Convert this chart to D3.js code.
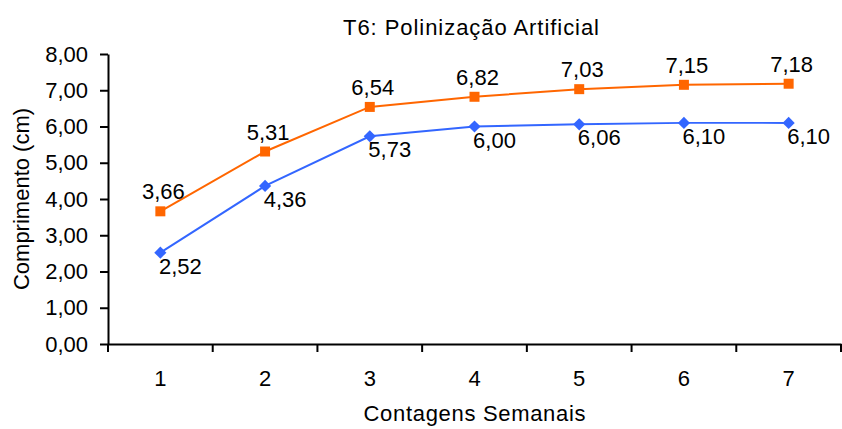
<!DOCTYPE html>
<html lang="pt">
	<head>
		<meta charset="utf-8">
		<title>T6</title>
		<script src="https://d3js.org/d3.v7.min.js"></script>
		<style type="text/css">
		body { margin: 0; background: white; }
		text { font-family: "Liberation Sans", Arial, sans-serif; fill: black; }
		.axis text { font-size: 22px; }
		.axis path, .axis line { stroke: black; stroke-width: 2; }
		.lbl { font-size: 22px; text-anchor: middle; }
		</style>
	</head>
	<body>
		<div id="chart"></div>
		<script type="text/javascript">

		// dados
		var semanas = ["1", "2", "3", "4", "5", "6", "7"];
		var serieA = [3.66, 5.31, 6.54, 6.82, 7.03, 7.15, 7.18];   // laranja
		var serieB = [2.52, 4.36, 5.73, 6.00, 6.06, 6.10, 6.10];   // azul
		var yTicks = [0, 1, 2, 3, 4, 5, 6, 7, 8];

		var w = 842, h = 429;
		var mLeft = 108, mRight = 841, mTop = 54, mBottom = 344;

		var fmt = function(v) { return d3.format(".2f")(v).replace(".", ","); };

		var svg = d3.select("#chart").append("svg")
			.attr("width", w)
			.attr("height", h);

		var xScale = d3.scaleBand().domain(semanas).range([mLeft, mRight]);
		var yScale = d3.scaleLinear().domain([0, 8]).range([mBottom, mTop]);

		var cx = function(d, i) { return xScale(semanas[i]) + xScale.bandwidth() / 2; };

		// eixos
		svg.append("g")
			.attr("class", "axis")
			.attr("transform", "translate(0," + mBottom + ")")
			.call(d3.axisBottom(xScale).tickSizeInner(0).tickSizeOuter(0).tickPadding(26))
			.call(function(g) {
				// ticks nas bordas das categorias
				var edges = semanas.map(function(s) { return xScale(s); }).concat([mRight]);
				g.selectAll(".edge").data(edges).enter().append("line")
					.attr("class", "edge")
					.attr("x1", function(d) { return d; }).attr("x2", function(d) { return d; })
					.attr("y1", 0).attr("y2", 8);
			});

		svg.append("g")
			.attr("class", "axis")
			.attr("transform", "translate(" + mLeft + ",0)")
			.call(d3.axisLeft(yScale).tickValues(yTicks).tickFormat(fmt).tickSizeInner(8).tickSizeOuter(0).tickPadding(12));

		// linhas
		var series = [
			{ vals: serieA, color: "#FF6600", size: 100, rot: 0, dx: 3, dy: -12 },
			{ vals: serieB, color: "#3366FF", size: 74, rot: 45, dx: 20, dy: 21 }
		];

		series.forEach(function(s) {
			var line = d3.line()
				.x(cx)
				.y(function(d) { return yScale(d); });

			svg.append("path")
				.datum(s.vals)
				.attr("d", line)
				.attr("fill", "none")
				.attr("stroke", s.color)
				.attr("stroke-width", 2);

			svg.selectAll(null)
				.data(s.vals)
				.enter()
				.append("path")
				.attr("d", d3.symbol().type(d3.symbolSquare).size(s.size))
				.attr("transform", function(d, i) { return "translate(" + cx(d, i) + "," + yScale(d) + ") rotate(" + s.rot + ")"; })
				.attr("fill", s.color);

			svg.selectAll(null)
				.data(s.vals)
				.enter()
				.append("text")
				.attr("class", "lbl")
				.attr("x", function(d, i) { return cx(d, i) + s.dx; })
				.attr("y", function(d) { return yScale(d) + s.dy; })
				.text(fmt);
		});

		// titulo
		svg.append("text")
			.attr("x", 471)
			.attr("y", 35)
			.attr("text-anchor", "middle")
			.attr("textLength", 256)
			.style("font-size", "22px")
			.text("T6: Polinização Artificial");

		// titulo eixo y
		svg.append("text")
			.attr("transform", "rotate(-90)")
			.attr("x", -(mTop + mBottom) / 2)
			.attr("y", 29)
			.attr("text-anchor", "middle")
			.style("font-size", "22px")
			.text("Comprimento (cm)");

		// titulo eixo x
		svg.append("text")
			.attr("x", (mLeft + mRight) / 2)
			.attr("y", 421)
			.attr("text-anchor", "middle")
			.attr("textLength", 222)
			.style("font-size", "22px")
			.text("Contagens Semanais");

		</script>
	</body>
</html>
